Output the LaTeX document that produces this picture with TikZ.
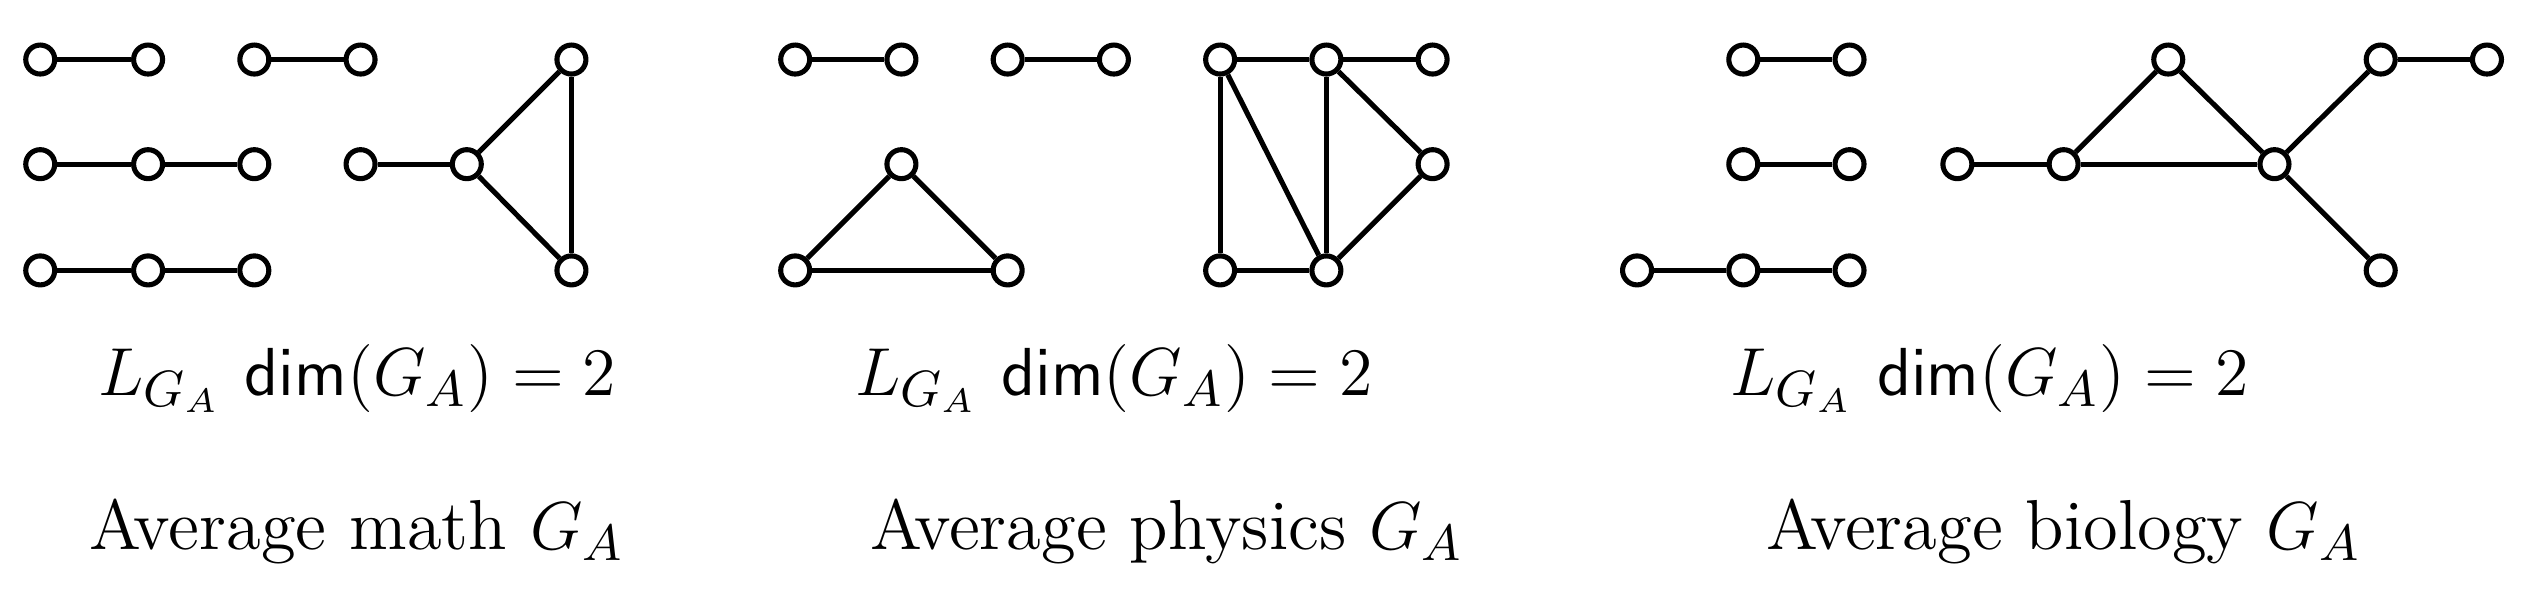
\documentclass[tikz,border=0pt]{standalone}
\begin{document}
\begin{tikzpicture}[x=0.01cm,y=-0.01cm,
  v/.style={circle,draw,fill=white,line width=0.9pt,minimum size=0.18cm,inner sep=0pt},
  e/.style={line width=0.9pt},
  lbl/.style={font=\fontsize{12.5}{15}\selectfont,inner sep=0pt}]
\useasboundingbox (0,0) rectangle (1568,377.7);
\newcommand{\LD}{$L_{G_A}\ \mathsf{dim}(G_A)=2$}
% panel 1
\foreach \n/\x/\y in {a/25/37,b/92/37,c/158/37,d/224/37,e/25/102,f/92/102,g/158/102,h/224/102,i/290/102,j/355/37,k/355/168,l/25/168,m/92/168,n/158/168}
  \node[v] (p\n) at (\x,\y) {};
\foreach \s/\t in {a/b,c/d,e/f,f/g,h/i,i/j,i/k,j/k,l/m,m/n}
  \draw[e] (p\s) -- (p\t);
% panel 2
\foreach \n/\x/\y in {a/494/37,b/560/37,c/626/37,d/692/37,e/758/37,f/824/37,g/890/37,h/890/102,i/758/168,j/824/168,k/560/102,l/494/168,m/626/168}
  \node[v] (q\n) at (\x,\y) {};
\foreach \s/\t in {a/b,c/d,e/f,f/g,e/i,e/j,f/j,f/h,h/j,i/j,k/l,k/m,l/m}
  \draw[e] (q\s) -- (q\t);
% panel 3
\foreach \n/\x/\y in {a/1083/37,b/1149/37,c/1083/102,d/1149/102,e/1017/168,f/1083/168,g/1149/168,h/1216/102,i/1282/102,j/1347/37,k/1413/102,l/1479/37,m/1545/37,n/1479/168}
  \node[v] (r\n) at (\x,\y) {};
\foreach \s/\t in {a/b,c/d,e/f,f/g,h/i,i/j,j/k,i/k,k/l,l/m,k/n}
  \draw[e] (r\s) -- (r\t);
% labels
\node[lbl] (l1) at (222,235) {\LD};
\node[lbl] (l2) at (692,235) {\LD};
\node[lbl] (l3) at (1236,235) {\LD};
\node[lbl] (t1) at (222,330) {Average math $G_A$};
\node[lbl] (t2) at (725,330) {Average physics $G_A$};
\node[lbl] (t3) at (1282,330) {Average biology $G_A$};
\end{tikzpicture}
\end{document}
